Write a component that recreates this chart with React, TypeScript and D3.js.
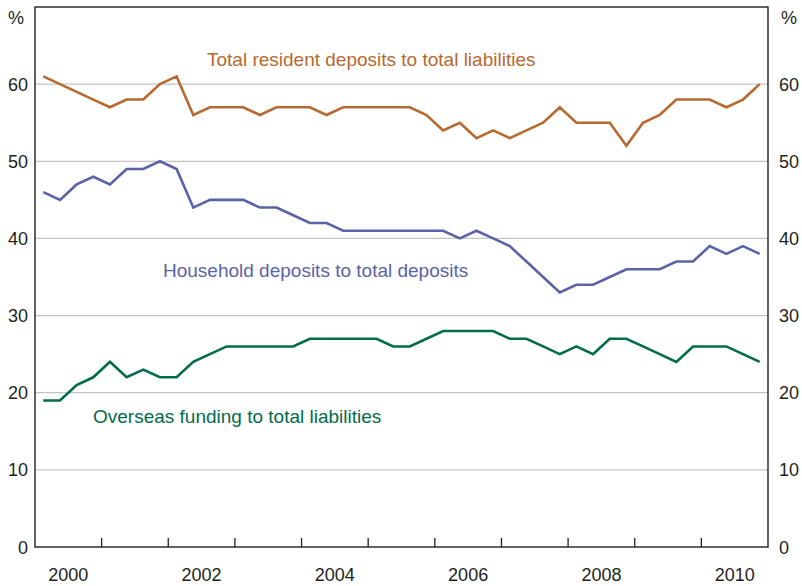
import React from "react";
import * as d3 from "d3";

const startYear = 2000;
const yearLabels = [2000, 2002, 2004, 2006, 2008, 2010];
const yTicks = [0, 10, 20, 30, 40, 50, 60];

const totalResident = [
  61, 60, 59, 58, 57, 58, 58, 60, 61, 56, 57, 57, 57, 56, 57, 57, 57, 56, 57, 57, 57, 57,
  57, 56, 54, 55, 53, 54, 53, 54, 55, 57, 55, 55, 55, 52, 55, 56, 58, 58, 58, 57, 58, 60,
];
const household = [
  46, 45, 47, 48, 47, 49, 49, 50, 49, 44, 45, 45, 45, 44, 44, 43, 42, 42, 41, 41, 41, 41,
  41, 41, 41, 40, 41, 40, 39, 37, 35, 33, 34, 34, 35, 36, 36, 36, 37, 37, 39, 38, 39, 38,
];
const overseas = [
  19, 19, 21, 22, 24, 22, 23, 22, 22, 24, 25, 26, 26, 26, 26, 26, 27, 27, 27, 27, 27, 26,
  26, 27, 28, 28, 28, 28, 27, 27, 26, 25, 26, 25, 27, 27, 26, 25, 24, 26, 26, 26, 25, 24,
];

const series = [
  { name: "Total resident deposits to total liabilities", values: totalResident, color: "#b8692f", lx: 207, ly: 66 },
  { name: "Household deposits to total deposits", values: household, color: "#5a62a8", lx: 163, ly: 277 },
  { name: "Overseas funding to total liabilities", values: overseas, color: "#006c48", lx: 93, ly: 423 },
];

const W = 802;
const H = 586;
const L = 35;
const R = 768;
const T = 7;
const B = 547;
const font = "'Liberation Sans', Arial, sans-serif";

export default function App() {
  const x = d3.scaleLinear().domain([2000, 2011]).range([L, R]);
  const y = d3.scaleLinear().domain([0, 70]).range([B, T]);
  const line = d3
    .line<number>()
    .x((_, i) => x(startYear + (i + 0.5) / 4))
    .y((d) => y(d));
  const yearTicks = d3.range(2001, 2011);
  const allYears = d3.range(2000, 2011);
  const axisColor = "#231f20";
  return (
    <svg width={W} height={H} style={{ position: "absolute", left: 0, top: 0, background: "#fff" }} fontFamily={font}>
      <rect x={0} y={0} width={W} height={H} fill="#fff" />
      {yTicks.filter((t) => t > 0).map((t) => (
        <line key={"g" + t} x1={L} x2={R} y1={y(t)} y2={y(t)} stroke="#c4c4c4" strokeWidth={1.3} />
      ))}
      {series.map((s) => (
        <path key={s.name} d={line(s.values) || ""} fill="none" stroke={s.color} strokeWidth={2.6} strokeLinejoin="miter" />
      ))}
      {series.map((s) => (
        <text key={"l" + s.name} x={s.lx} y={s.ly} fill={s.color} fontSize={19}>
          {s.name}
        </text>
      ))}
      <rect x={L} y={T} width={R - L} height={B - T} fill="none" stroke={axisColor} strokeWidth={1.4} />
      {yearTicks.map((yr) => (
        <line key={"t" + yr} x1={x(yr)} x2={x(yr)} y1={B} y2={B - 9} stroke={axisColor} strokeWidth={1.3} />
      ))}
      {yTicks.map((t) => (
        <g key={"yl" + t}>
          <text x={28} y={y(t) + 6.5} textAnchor="end" fontSize={18} fill="#231f20">{t}</text>
          <text x={779} y={y(t) + 6.5} textAnchor="start" fontSize={18} fill="#231f20">{t}</text>
        </g>
      ))}
      <text x={8} y={24} fontSize={18} fill="#231f20">%</text>
      <text x={781} y={24} fontSize={18} fill="#231f20">%</text>
      {allYears.filter((yr) => yearLabels.includes(yr)).map((yr) => (
        <text key={"x" + yr} x={x(yr + 0.5)} y={581} textAnchor="middle" fontSize={18} fill="#231f20">{yr}</text>
      ))}
    </svg>
  );
}
